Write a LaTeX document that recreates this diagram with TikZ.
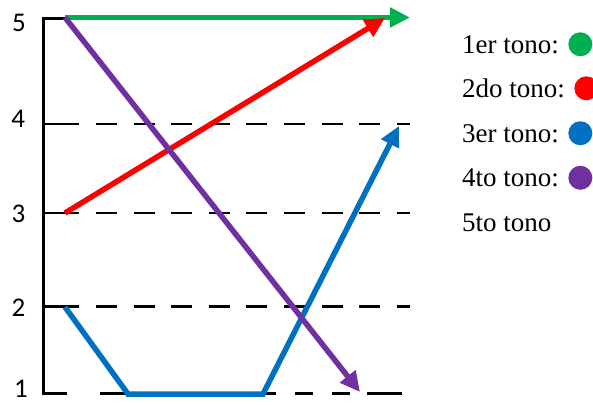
\documentclass[tikz,border=0pt]{standalone}
\usepackage{fontspec}
\setmainfont{Liberation Serif}
\newfontfamily\axisfont{Carlito}
\usetikzlibrary{arrows.meta}
\definecolor{tgreen}{HTML}{00B050}
\definecolor{tred}{HTML}{FF0000}
\definecolor{tblue}{HTML}{0070C0}
\definecolor{tpurple}{HTML}{7030A0}
\begin{document}
\begin{tikzpicture}[x=1pt,y=-1pt,
  axisline/.style={black, line width=2.7pt, line join=miter},
  guide/.style={black, line width=2.5pt},
  guidedash/.style={guide, dash pattern=on 21pt off 16.6pt},
  tone/.style={line width=5.5pt, line join=miter, -{Triangle[length=20pt,width=19pt]}},
  lbl/.style={font=\axisfont\fontsize{27}{27}\selectfont, inner sep=0pt},
  leg/.style={font=\fontsize{27}{27}\selectfont, anchor=base west, inner sep=0pt},
  dot/.style={circle, inner sep=0pt, minimum size=24pt, anchor=west}
]
\useasboundingbox (0,0) rectangle (593,404);

% axis labels
\node[lbl] (n5) at (19,22.5) {5};
\node[lbl] (n4) at (18.3,118.5) {4};
\node[lbl] (n3) at (18.5,214) {3};
\node[lbl] (n2) at (18.5,308) {2};
\node[lbl] (n1) at (21,389) {1};

% axis
\coordinate (top) at (43.5,18.5);
\coordinate (bot) at (43.5,393.5);
\draw[axisline] (65,18.5) -- (top) -- (bot) -- (67,393.5);

% guide lines
\foreach \yy in {124,213,306.5}{
  \draw[guide] (43,\yy) -- (58.4,\yy);
  \draw[guidedash] (58.4,\yy) -- (410,\yy);
}
\draw[guide] (100,393.5) -- (128,393.5);
\draw[guide, dash pattern=on 18pt off 19pt] (258,393.5) -- (350,393.5);
\draw[guide] (367,393.5) -- (402,393.5);

% tone lines
\coordinate (g0) at (65,17.5);
\coordinate (g1) at (410,17.5);
\coordinate (r0) at (65,213);
\coordinate (r1) at (385,18);
\coordinate (b0) at (65,307);
\coordinate (b1) at (128,394);
\coordinate (b2) at (263,394);
\coordinate (b3) at (399,126);
\coordinate (p0) at (65,17.5);
\coordinate (p1) at (360,392);

\draw[tone, tgreen] (g0) -- (g1);
\draw[tone, tred] (r0) -- (r1);
\draw[tone, tblue] (b0) -- (b1) -- (b2) -- (b3);
\draw[tone, tpurple] (p0) -- (p1);

% legend
\node[leg] (l1) at (462,53) {1er tono:};
\node[leg] (l2) at (462,97.5) {2do tono:};
\node[leg] (l3) at (462,142) {3er tono:};
\node[leg] (l4) at (462,186.5) {4to tono:};
\node[leg] (l5) at (462,231) {5to tono};
\node[dot, fill=tgreen] (d1) at ([xshift=9pt]l1.east) {};
\node[dot, fill=tred] (d2) at ([xshift=9pt]l2.east) {};
\node[dot, fill=tblue] (d3) at ([xshift=9pt]l3.east) {};
\node[dot, fill=tpurple] (d4) at ([xshift=9pt]l4.east) {};
\end{tikzpicture}
\end{document}
